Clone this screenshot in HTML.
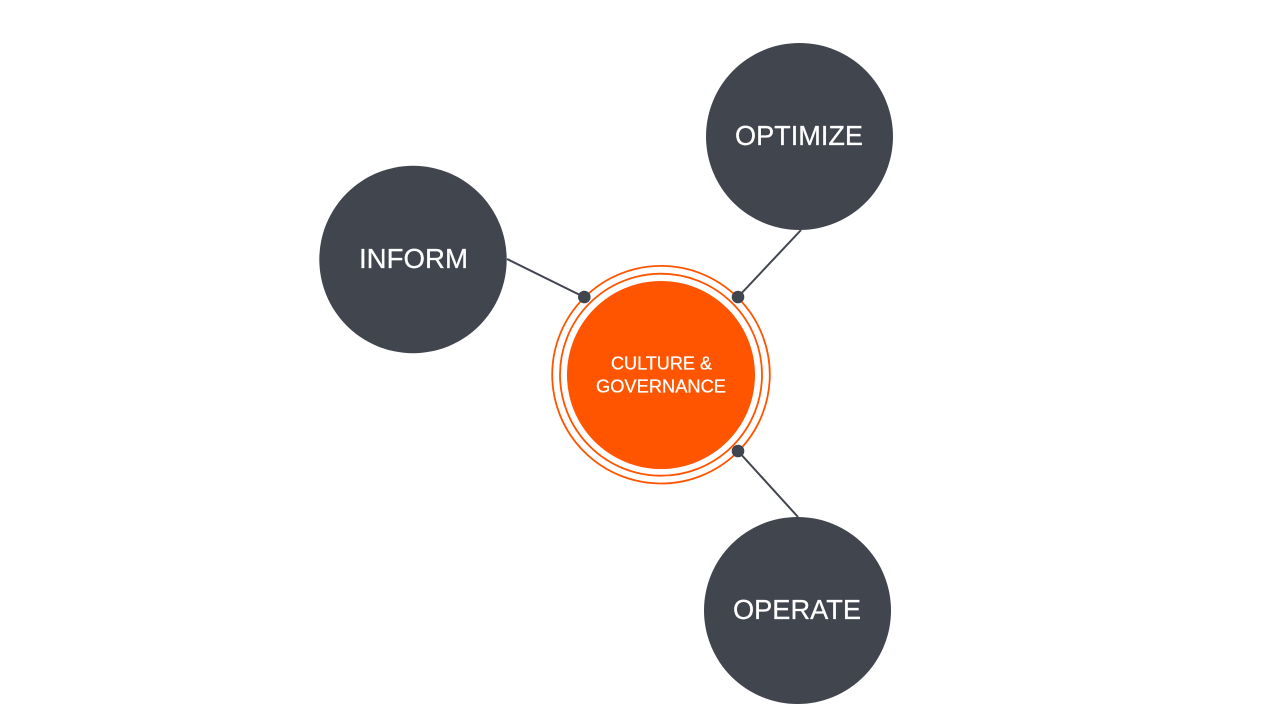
<!DOCTYPE html>
<html lang="en">
<head>
<meta charset="utf-8">
<title>Culture and Governance Diagram</title>
<style>
html,body{margin:0;padding:0;background:#fff;width:1280px;height:720px;overflow:hidden}
svg{display:block}
text{font-family:"Liberation Sans",sans-serif;fill:#fff;text-anchor:middle;stroke:#fff;stroke-width:.25px}
</style>
</head>
<body>
<svg width="1280" height="720" viewBox="0 0 1280 720" xmlns="http://www.w3.org/2000/svg">
<rect width="1280" height="720" fill="#fff"/>
<g stroke="#40454e" stroke-width="2" fill="none">
<line x1="507" y1="259" x2="584" y2="297"/>
<line x1="801" y1="230" x2="738" y2="297"/>
<line x1="738" y1="451" x2="798" y2="517"/>
</g>
<circle cx="661" cy="374.700" r="108.800" fill="none" stroke="#ff5400" stroke-width="1.800"/>
<circle cx="661" cy="374.700" r="101" fill="none" stroke="#ff5400" stroke-width="1.800"/>
<circle cx="661" cy="375" r="94" fill="#ff5400"/>
<circle cx="413" cy="259.500" r="93.700" fill="#40454e"/>
<circle cx="799.500" cy="136.500" r="93.500" fill="#40454e"/>
<circle cx="797.500" cy="610.500" r="93.500" fill="#40454e"/>
<circle cx="584.300" cy="297" r="6.300" fill="#40454e"/>
<circle cx="738" cy="297" r="6.300" fill="#40454e"/>
<circle cx="738" cy="451" r="6.300" fill="#40454e"/>
<text x="413.500" y="268" font-size="28" textLength="109" lengthAdjust="spacingAndGlyphs">INFORM</text>
<text x="799" y="145" font-size="28" textLength="128" lengthAdjust="spacingAndGlyphs">OPTIMIZE</text>
<text x="797" y="619" font-size="28" textLength="128" lengthAdjust="spacingAndGlyphs">OPERATE</text>
<text x="661.500" y="369.500" font-size="18" textLength="101" lengthAdjust="spacingAndGlyphs">CULTURE &amp;</text>
<text x="661" y="392.500" font-size="18" textLength="130" lengthAdjust="spacingAndGlyphs">GOVERNANCE</text>
</svg>
</body>
</html>
